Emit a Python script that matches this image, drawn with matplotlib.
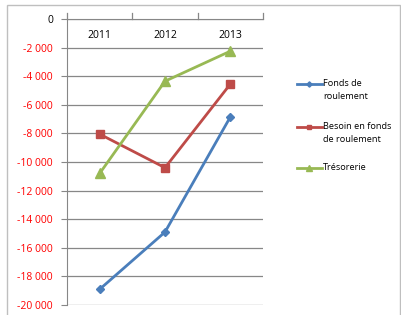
import matplotlib
matplotlib.use("Agg")
import matplotlib.pyplot as plt
from matplotlib.ticker import FuncFormatter
from matplotlib.patches import Rectangle
from matplotlib.lines import Line2D

categories = ["2011", "2012", "2013"]
fonds_de_roulement = [-18900, -14900, -6850]
besoin_fonds_roulement = [-8050, -10400, -4550]
tresorerie = [-10800, -4350, -2250]
series_labels = ["Fonds de\nroulement", "Besoin en fonds\nde roulement", "Trésorerie"]
y_ticks = list(range(0, -20001, -2000))

plt.rcParams['font.family'] = ['Open Sans', 'DejaVu Sans']

fig = plt.figure(figsize=(4.02, 3.15), dpi=100)
W, H = 402, 315
ax = fig.add_axes([67 / W, 1 - 305 / H, (263 - 67) / W, (305 - 19) / H])

# outer chart frame
fig.patches.append(Rectangle((7 / W, -0.05), (400 - 7) / W, 1 - 5 / H + 0.05, transform=fig.transFigure,
                             fill=False, edgecolor='#BFBFBF', linewidth=1.0))

x = list(range(len(categories)))
colors = ['#4A7EBB', '#BE4B48', '#98B954']
markers = ['D', 's', '^']
msizes = [4.5, 6, 6.5]
series = [fonds_de_roulement, besoin_fonds_roulement, tresorerie]
for s, c, m, ms in zip(series, colors, markers, msizes):
    ax.plot(x, s, color=c, lw=2.0, marker=m, ms=ms)

ax.set_xlim(-0.5, 2.5)
ax.set_ylim(-20000, 0)
ax.set_yticks(y_ticks)
ax.yaxis.set_major_formatter(FuncFormatter(lambda v, p: f"{int(v):,}".replace(",", " ")))
ax.grid(axis='y', color='#878787', lw=0.9)
ax.set_axisbelow(True)
ax.tick_params(axis='y', length=4, color='#878787', labelsize=7.5, pad=6)
fig.canvas.draw()
for v, lab in zip(y_ticks, ax.get_yticklabels()):
    lab.set_color('red' if v < 0 else 'black')

# category axis on top at 0
ax.set_xticks([])
for i, c in enumerate(categories):
    ax.text(i, -1150, c, ha='center', va='center', fontsize=7.5)
for b in [-0.5, 0.5, 1.5, 2.5]:
    ax.plot([b, b], [0, 450], color='#878787', lw=0.9, clip_on=False)

for s in ['right', 'bottom']:
    ax.spines[s].set_visible(False)
ax.spines['left'].set_color('#878787')
ax.spines['top'].set_color('#878787')

# manual legend (handle aligned with first text line, as in the reference)
leg_y = [84, 127, 168]
for lbl, c, m, ms, yy in zip(series_labels, colors, markers, msizes, leg_y):
    yf = 1 - yy / H
    fig.lines.append(Line2D([297 / W, 322 / W], [yf, yf], transform=fig.transFigure,
                            color=c, lw=2.0))
    fig.lines.append(Line2D([309.5 / W], [yf], transform=fig.transFigure,
                            color=c, marker=m, ms=ms * 0.6, lw=0))
    fig.text(323 / W, yf + 5 / H, lbl, ha='left', va='top', fontsize=6.6,
             linespacing=1.55)

fig.savefig("out.png", dpi=100)
